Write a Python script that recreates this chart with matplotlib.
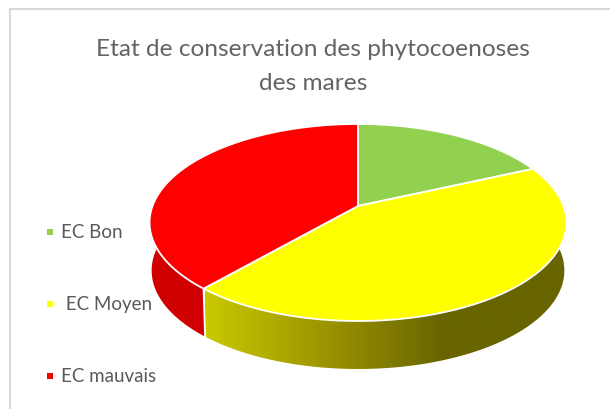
import numpy as np
import matplotlib
matplotlib.use("Agg")
import matplotlib.pyplot as plt
from matplotlib.colors import LinearSegmentedColormap
from matplotlib.patches import Polygon

# Etat de conservation, share of the pie in percent
categories = ["EC Bon", " EC Moyen", "EC mauvais"]
values = [18.2, 43.2, 38.6]
colors = ["#92D050", "#FFFF00", "#FF0000"]
title_lines = ["Etat de conservation des phytocoenoses", "des mares"]

plt.rcParams["font.family"] = "Lato"
GREY = "#595959"

fig = plt.figure(figsize=(6.1, 4.1), dpi=100)
ax = fig.add_axes([0, 0, 1, 1])
ax.set_xlim(0, 610)
ax.set_ylim(410, 0)
ax.axis("off")

# chart frame, runs off the picture at right and bottom
ax.plot([620, 9.5, 9.5], [10, 10, 420], color="#D9D9D9", lw=1.5)

for line, ty in zip(title_lines, [50, 84]):
    ax.text(313, ty, line, ha="center", va="center", fontsize=17.6, color="#636363")


def rim(t, scale=1.0, drop=0.0):
    # tilted pie: t is clockwise from the top, perspective squeezes the far side
    u, v = np.sin(t), np.cos(t)
    w = 1 + 0.1675 * v
    return 358 + 205.5 * scale * u / w, (207 - 61.06 * v) / w + drop


def side(t0, t1):
    t = np.linspace(t0, t1, 120)
    x0, y0 = rim(t)
    x1, y1 = rim(t[::-1], 0.99, 48)
    return np.c_[np.r_[x0, x1], np.r_[y0, y1]]


edges = np.r_[0, np.cumsum(values)] / sum(values) * 2 * np.pi

# side walls first, the top covers whatever is hidden
yellow_wall = Polygon(side(edges[1], edges[2]), fc="none", ec="none")
ax.add_patch(yellow_wall)
shade = LinearSegmentedColormap.from_list("wall", ["#C9C900", "#9C9400", "#686400", "#686400"])
img = ax.imshow(np.linspace(0, 1, 256)[None, :], cmap=shade, extent=(205, 566, 380, 200), aspect="auto", zorder=2)
img.set_clip_path(yellow_wall)
ax.set_xlim(0, 610)
ax.set_ylim(410, 0)

ax.add_patch(Polygon(side(edges[2], 1.7 * np.pi), fc="#D00000", ec="none", zorder=2))

# white line between the two walls
x_a, y_a = rim(edges[2])
x_b, y_b = rim(edges[2], 0.99, 48)
ax.plot([x_a, x_b], [y_a, y_b], color="white", lw=1.3, zorder=3)

for i, c in enumerate(colors):
    t = np.linspace(edges[i], edges[i + 1], 200)
    x, y = rim(t)
    pts = np.c_[np.r_[358, x], np.r_[207, y]]
    ax.add_patch(Polygon(pts, fc=c, ec="white", lw=1.3, joinstyle="round", zorder=4))

for name, c, ly in zip(categories, colors, [233, 305, 377]):
    ax.plot(50, ly, "s", color=c, ms=4.8, mew=0)
    ax.text(61, ly, name, ha="left", va="center", fontsize=13.5, color=GREY)

fig.savefig("out.png", dpi=100)
